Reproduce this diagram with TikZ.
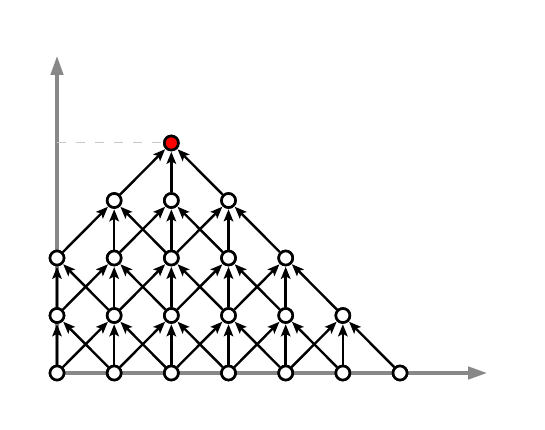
\documentclass[tikz,border=0pt]{standalone}
\usetikzlibrary{arrows.meta}
\begin{document}
\begin{tikzpicture}[x=1pt,y=-1pt,
  pt/.style={circle,draw=black,line width=2.6pt,fill=white,minimum size=14pt,inner sep=0pt},
  top/.style={pt,fill=red},
  edge/.style={line width=2.4pt,-{Stealth[length=12pt,width=9.5pt,inset=2.5pt]},shorten >=0.5pt},
  axis/.style={draw={rgb,255:red,136;green,136;blue,136},line width=3.2pt,-{Triangle[length=19pt,width=12.5pt]}},
  guide/.style={draw={rgb,255:red,200;green,200;blue,200},line width=1pt,dash pattern=on 9pt off 10pt}]
\useasboundingbox (0,0) rectangle (545,430);
\def\dx{57.17}
\def\dy{57.5}
\coordinate (O) at (57,373);
\coordinate (xend) at (487,373);
\coordinate (yend) at (57,56);
\coordinate (ystart) at (57,143);
\draw[axis] (O) -- (xend);
\draw[axis] (O) -- (yend);
% nodes
\foreach \j/\a/\b in {0/0/6,1/0/5,2/0/4,3/1/3} {
  \foreach \i in {\a,...,\b} {
    \node[pt] (n\i-\j) at ({57+\i*\dx},{373-\j*\dy}) {};
  }
}
\node[top] (n2-4) at ({57+2*\dx},{373-4*\dy}) {};
\draw[guide] (ystart) -- (n2-4);
% edges
\foreach \i in {0,...,6} {
  \ifnum\i>0 \pgfmathtruncatemacro\l{\i-1}\draw[edge] (n\i-0) -- (n\l-1);\fi
  \ifnum\i<6 \draw[edge] (n\i-0) -- (n\i-1);\fi
  \ifnum\i<5 \pgfmathtruncatemacro\r{\i+1}\draw[edge] (n\i-0) -- (n\r-1);\fi
}
\foreach \i in {0,...,5} {
  \ifnum\i>0 \pgfmathtruncatemacro\l{\i-1}\draw[edge] (n\i-1) -- (n\l-2);\fi
  \ifnum\i<5 \draw[edge] (n\i-1) -- (n\i-2);\fi
  \ifnum\i<4 \pgfmathtruncatemacro\r{\i+1}\draw[edge] (n\i-1) -- (n\r-2);\fi
}
\foreach \i in {0,...,4} {
  \ifnum\i>1 \pgfmathtruncatemacro\l{\i-1}\draw[edge] (n\i-2) -- (n\l-3);\fi
  \ifnum\i>0 \ifnum\i<4 \draw[edge] (n\i-2) -- (n\i-3);\fi\fi
  \ifnum\i<3 \pgfmathtruncatemacro\r{\i+1}\draw[edge] (n\i-2) -- (n\r-3);\fi
}
\draw[edge] (n1-3) -- (n2-4);
\draw[edge] (n2-3) -- (n2-4);
\draw[edge] (n3-3) -- (n2-4);
% redraw nodes on top
\foreach \j/\a/\b in {0/0/6,1/0/5,2/0/4,3/1/3} {
  \foreach \i in {\a,...,\b} {
    \node[pt] at (n\i-\j) {};
  }
}
\node[top] at (n2-4) {};
\end{tikzpicture}
\end{document}
